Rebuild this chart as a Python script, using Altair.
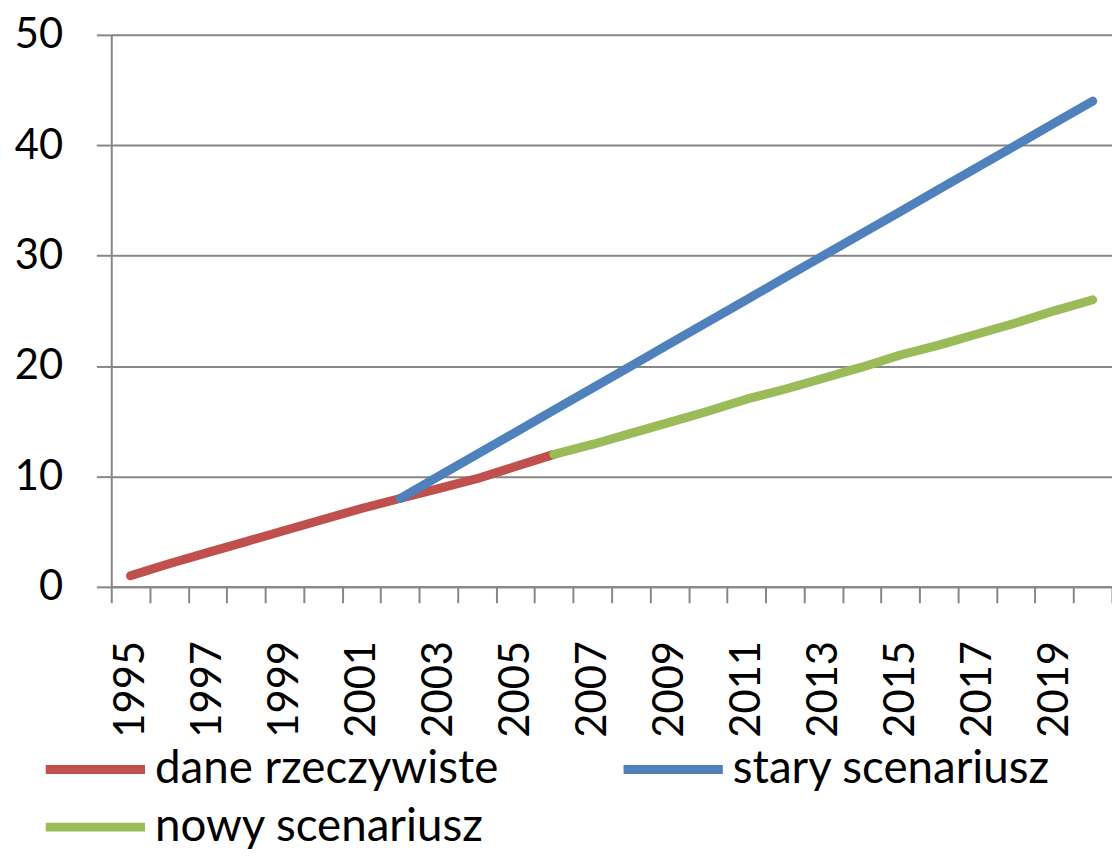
import altair as alt
import pandas as pd

years = list(range(1995, 2021))

real_years = list(range(1995, 2007))
real_vals = [1.0, 2.1, 3.1, 4.1, 5.1, 6.1, 7.1, 8.0, 8.9, 9.8, 10.9, 12.0]

old_years = list(range(2002, 2021))
old_vals = [8.0, 10.0, 12.0, 14.0, 16.0, 18.0, 20.0, 22.0, 24.0, 26.0,
            28.0, 30.0, 32.0, 34.0, 36.0, 38.0, 40.0, 42.0, 44.0]

new_years = list(range(2006, 2021))
new_vals = [12.0, 12.9, 13.9, 14.9, 15.9, 17.0, 17.9, 18.9, 19.9, 21.0,
            21.9, 22.9, 23.9, 25.0, 26.0]

series_names = ["dane rzeczywiste", "stary scenariusz", "nowy scenariusz"]
series_colors = ["#C0504D", "#4F81BD", "#9BBB59"]
y_ticks = [0, 10, 20, 30, 40, 50]

rows = []
for name, ys, vs in zip(series_names, [real_years, old_years, new_years],
                        [real_vals, old_vals, new_vals]):
    for yr, v in zip(ys, vs):
        rows.append({"year": yr, "value": v, "series": name})
df = pd.DataFrame(rows)

FONT = "Lato"
GRAY = "#868686"

chart = alt.Chart(df).mark_line(strokeWidth=9, strokeCap="round", strokeJoin="round").encode(
    x=alt.X("year:O",
            scale=alt.Scale(type="band", domain=years, paddingInner=0, paddingOuter=0),
            axis=alt.Axis(title=None, values=years,
                          labelExpr="datum.value % 2 == 1 ? datum.label : ''",
                          labelAngle=270, labelAlign="right", labelBaseline="middle",
                          tickBand="extent", tickSize=16, labelPadding=38,
                          grid=False, labelOverlap=False)),
    y=alt.Y("value:Q",
            scale=alt.Scale(domain=[0, 50], nice=False, zero=True),
            axis=alt.Axis(title=None, values=y_ticks, tickSize=15, labelPadding=34,
                          grid=True)),
    color=alt.Color("series:N",
                    scale=alt.Scale(domain=series_names, range=series_colors),
                    legend=alt.Legend(title=None, orient="none", legendX=-39, legendY=717,
                                      columns=2, direction="horizontal",
                                      symbolType="M-5,0L5,0", symbolSize=400,
                                      symbolStrokeWidth=9, labelFontSize=46, labelFont=FONT,
                                      labelColor="#000000", labelOffset=37, labelLimit=800,
                                      rowPadding=12, columnPadding=108, padding=0)),
    order=alt.Order("year:O"),
).properties(
    width=1008, height=556,
    autosize=alt.AutoSizeParams(type="none"),
    padding={"left": 104, "top": 24, "right": 0, "bottom": 264},
).configure_view(stroke=None).configure_axis(
    labelFont=FONT, labelFontSize=42, labelColor="#000000",
    domainColor=GRAY, domainWidth=2, tickColor=GRAY, tickWidth=2,
    gridColor=GRAY, gridWidth=2,
)

chart.save("out.html", embed_options={"renderer": "svg", "actions": False})
